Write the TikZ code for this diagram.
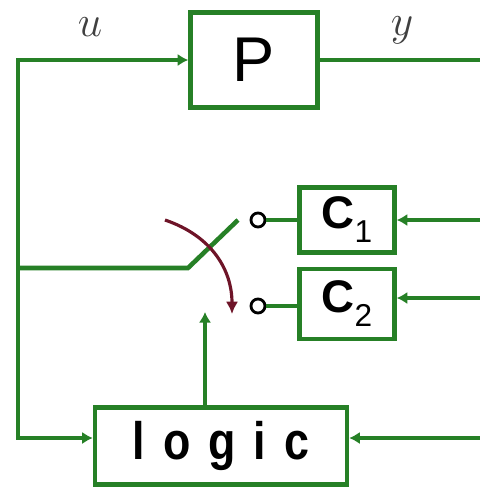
\documentclass[tikz,border=0pt]{standalone}
\usepackage{fontspec}
\setsansfont{Liberation Sans}
\usetikzlibrary{arrows.meta}
\definecolor{wiregreen}{RGB}{38,128,38}
\definecolor{swred}{RGB}{110,20,40}
\tikzset{
  block/.style={draw=wiregreen, line width=2.6pt, fill=white, inner sep=0pt},
  wire/.style={draw=wiregreen, line width=2.6pt},
  arr/.style={-{Latex[length=6pt,width=7pt]}},
  contact/.style={circle, draw=black, line width=1.6pt, minimum size=8pt, inner sep=0pt},
  sig/.style={text=black!75, font=\fontsize{28}{28}\selectfont},
}
\begin{document}
\begin{tikzpicture}[x=0.02cm, y=-0.02cm]
  \useasboundingbox (0,0) rectangle (480,488);
  % blocks
  \node[block, minimum width=2.54cm, minimum height=1.9cm,
        font=\sffamily\fontsize{36}{36}\selectfont] (P) at (254,60) {P};
  \node[block, minimum width=1.9cm, minimum height=1.3cm,
        font=\sffamily\bfseries\fontsize{26}{26}\selectfont] (C1) at (347,220)
        {C\raisebox{-8pt}{\mdseries\fontsize{18}{18}\selectfont 1}};
  \node[block, minimum width=1.9cm, minimum height=1.4cm,
        font=\sffamily\bfseries\fontsize{26}{26}\selectfont] (C2) at (347,304)
        {C\raisebox{-8pt}{\mdseries\fontsize{18}{18}\selectfont 2}};
  \node[block, minimum width=5.04cm, minimum height=1.54cm,
        font=\sffamily\bfseries\fontsize{30}{30}\selectfont] (logic) at (221,446)
        {\scalebox{0.85}[1]{l\hspace{0.4em}o\hspace{0.4em}g\hspace{0.4em}i\hspace{0.4em}c}};
  % contacts
  \node[contact] (k1) at (258,220) {};
  \node[contact] (k2) at (258,306) {};
  % signal labels
  \node[sig] (u) at (90,27) {$u$};
  \node[sig] (y) at (402,30) {$y$};
  % points
  \coordinate (tl) at (18,60);
  \coordinate (fb) at (18,438);
  \coordinate (sj) at (18,268);
  \coordinate (sw0) at (188,268);
  \coordinate (sw1) at (238,220);
  \coordinate (out) at (480,60);
  \coordinate (in1) at (480,220);
  \coordinate (in2) at (480,298);
  \coordinate (in3) at (480,438);
  \coordinate (lg) at (205,312);
  % wires
  \draw[wire, {Latex[length=6pt,width=7pt]}-{Latex[length=6pt,width=7pt]}]
    (P.west) -- (tl) -- (fb) -- (fb -| logic.west);
  \draw[wire] (P.east) -- (out);
  \draw[wire] (sj) -- (sw0) -- (sw1);
  \draw[wire] (k1) -- (k1 -| C1.west);
  \draw[wire] (k2) -- (k2 -| C2.west);
  \draw[wire, arr] (in1) -- (C1.east);
  \draw[wire, arr] (in2) -- (in2 -| C2.east);
  \draw[wire, arr] (in3) -- (in3 -| logic.east);
  \draw[wire, arr] (logic.north -| lg) -- (lg);
  % switch motion
  \draw[swred, line width=1.8pt, -{Latex[length=7pt,width=7pt]}]
    (165,220) .. controls (212,236) and (232,270) .. (232,314);
\end{tikzpicture}
\end{document}
